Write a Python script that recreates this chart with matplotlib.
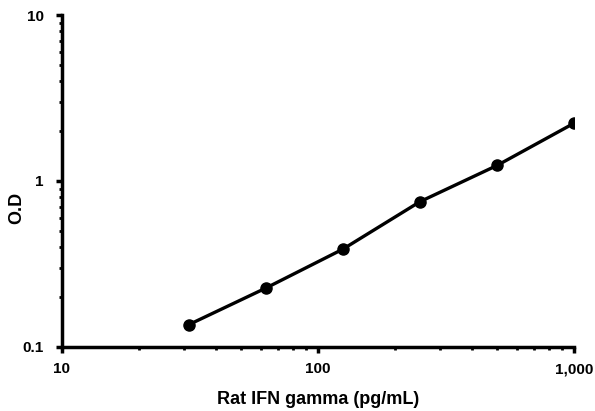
import matplotlib
matplotlib.use('Agg')
import matplotlib.pyplot as plt
import matplotlib.ticker as mticker
import numpy as np

conc = [31.25, 62.5, 125, 250, 500, 1000]
od = [0.136, 0.226, 0.388, 0.75, 1.24, 2.23]
xticks = [10, 100, 1000]
xlabels = ['10', '100', '1,000']
yticks = [0.1, 1, 10]
ylabels = ['0.1', '1', '10']

plt.rcParams['font.family'] = ['Liberation Sans', 'DejaVu Sans']
plt.rcParams['font.weight'] = 'bold'

fig = plt.figure(figsize=(5.95, 4.11), dpi=100)
ax = fig.add_axes([0.104, 0.156, 0.861, 0.8075])
ax.plot(conc, od, color='black', lw=2.4, marker='o', ms=8)
ax.set_xscale('log')
ax.set_yscale('log')
ax.set_xlim(10, 1000)
ax.set_ylim(0.1, 10)
ax.set_xticks(xticks)
ax.set_xticklabels(xlabels)
ax.set_yticks(yticks)
ax.set_yticklabels(ylabels)
ax.xaxis.set_minor_locator(mticker.LogLocator(subs=np.arange(2, 10)))
ax.yaxis.set_minor_locator(mticker.LogLocator(subs=np.arange(2, 10)))
ax.xaxis.set_minor_formatter(mticker.NullFormatter())
ax.yaxis.set_minor_formatter(mticker.NullFormatter())
for s in ['top', 'right']:
    ax.spines[s].set_visible(False)
for s in ['left', 'bottom']:
    ax.spines[s].set_linewidth(2.5)
ax.tick_params(which='major', direction='out', length=4, width=2.5, labelsize=11)
ax.tick_params(which='minor', direction='out', length=2.5, width=2)
ax.tick_params(axis='x', which='major', pad=7)
ax.tick_params(axis='y', which='major', pad=9)
ax.set_xlabel('Rat IFN gamma (pg/mL)', fontsize=13, fontweight='bold', labelpad=11)
ax.set_ylabel('O.D', fontsize=13, fontweight='bold')
ax.yaxis.set_label_coords(-0.072, 0.42)
fig.savefig('out.png', dpi=100)
